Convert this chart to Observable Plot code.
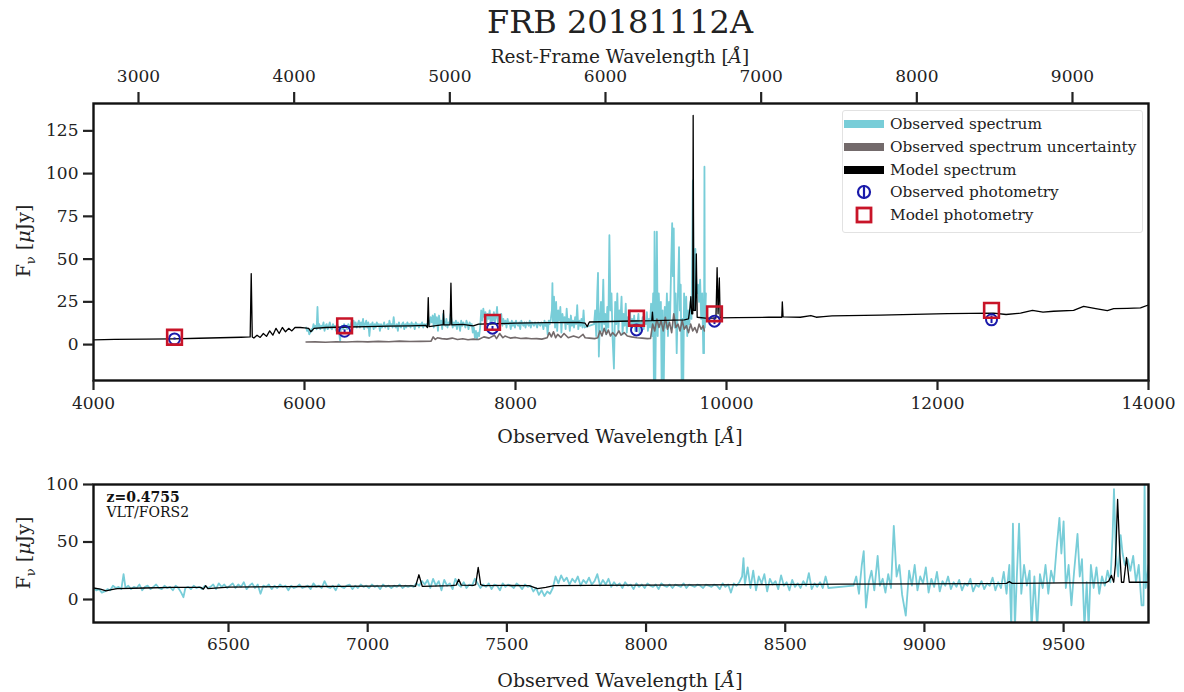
<!DOCTYPE html>
<html>
<head>
<meta charset="utf-8">
<script src="https://cdn.jsdelivr.net/npm/d3@7"></script>
<script src="https://cdn.jsdelivr.net/npm/@observablehq/plot@0.6"></script>
<style>
  body { margin: 0; background: #fff; }
  #wrap { position: relative; width: 1184px; height: 692px; background: #fff; font-family: "DejaVu Serif", serif; color: #222; overflow: hidden; }
  .abs { position: absolute; }
  .lbl { position: absolute; white-space: nowrap; font-size: 19px; transform: translate(-50%, -50%); }
  .ylbl { position: absolute; white-space: nowrap; font-size: 19px; transform: translate(-50%, -50%) rotate(-90deg); }
  #legend { position: absolute; left: 842px; top: 110px; width: 299px; height: 121px; border: 1px solid #e2e2e2; border-radius: 3px; background: rgba(255,255,255,0.85); font-size: 15.3px; }
  .li { position: absolute; left: 0; height: 20px; display: flex; align-items: center; }
  .li span { position: absolute; left: 47px; white-space: nowrap; }
</style>
</head>
<body>
<div id="wrap">
  <div id="top" class="abs" style="left:0;top:60px;"></div>
  <div id="bot" class="abs" style="left:0;top:470px;"></div>
  <div class="lbl" style="left:620px;top:22px;font-size:32px;">FRB 20181112A</div>
  <div class="lbl" style="left:620px;top:56px;font-size:18.5px;">Rest-Frame Wavelength [<i>Å</i>]</div>
  <div class="lbl" style="left:620px;top:436px;">Observed Wavelength [<i>Å</i>]</div>
  <div class="lbl" style="left:620px;top:680px;">Observed Wavelength [<i>Å</i>]</div>
  <div class="ylbl" style="left:25px;top:241px;">F<sub style="font-size:13px">ν</sub> [<i>μ</i>Jy]</div>
  <div class="ylbl" style="left:25px;top:553px;">F<sub style="font-size:13px">ν</sub> [<i>μ</i>Jy]</div>
  <div id="legend"></div>
</div>
<script>
const z = 0.4755;

// tick labels
const obsTicksTop = [4000, 6000, 8000, 10000, 12000, 14000];
const restTicks = [3000, 4000, 5000, 6000, 7000, 8000, 9000];
const yTicksTop = [0, 25, 50, 75, 100, 125];
const obsTicksBot = [6500, 7000, 7500, 8000, 8500, 9000, 9500];
const yTicksBot = [0, 50, 100];

// observed spectrum (VLT/FORS2): [wavelength Å, flux μJy]
const observedSpectrum = [
[6015,10],[6025,8],[6035,9],[6045,6],[6055,7],[6065,9],[6075,8],[6085,12],[6095,10],[6105,11],[6115,9],[6123,22],[6130,10],[6140,12],[6150,9],[6160,11],[6170,10],[6180,13],[6190,8],[6200,11],
[6210,12],[6220,9],[6230,11],[6240,13],[6250,10],[6260,9],[6270,12],[6280,10],[6290,11],[6300,8],[6310,12],[6320,10],[6330,6],[6338,2],[6345,10],[6355,11],[6365,9],[6375,12],[6385,10],[6395,11],
[6405,9],[6415,12],[6425,10],[6435,11],[6445,13],[6455,9],[6465,14],[6475,11],[6485,13],[6495,10],[6505,12],[6515,14],[6525,10],[6535,13],[6545,11],[6555,15],[6565,9],[6575,12],[6585,14],[6595,10],
[6605,13],[6615,5],[6625,12],[6635,11],[6645,13],[6655,9],[6665,12],[6675,10],[6685,13],[6695,11],[6705,12],[6715,8],[6725,12],[6735,10],[6745,11],[6755,13],[6765,10],[6775,11],[6785,12],[6795,9],
[6805,14],[6815,11],[6825,12],[6835,10],[6845,16],[6855,11],[6865,10],[6875,12],[6885,8],[6895,13],[6905,11],[6915,10],[6925,12],[6935,13],[6945,9],[6955,12],[6965,10],[6975,13],[6985,11],[6995,12],
[7005,10],[7015,13],[7025,11],[7035,12],[7045,9],[7055,13],[7065,11],[7075,12],[7085,10],[7095,12],[7105,11],[7115,13],[7125,10],[7135,12],[7145,11],[7155,12],[7165,11],[7175,14],[7185,12],[7195,16],
[7205,13],[7215,17],[7225,10],[7235,18],[7245,12],[7255,16],[7265,8],[7275,17],[7285,12],[7295,14],[7305,9],[7315,18],[7325,13],[7335,11],[7345,15],[7355,10],[7365,13],[7375,12],[7385,18],[7395,14],
[7405,10],[7415,13],[7425,11],[7435,14],[7445,9],[7455,13],[7465,12],[7475,8],[7485,14],[7495,11],[7505,13],[7515,12],[7525,10],[7535,14],[7545,12],[7555,9],[7565,13],[7575,11],[7585,12],[7595,7],
[7605,10],[7615,4],[7625,8],[7635,3],[7645,7],[7655,5],[7665,10],[7675,20],[7685,14],[7695,21],[7705,16],[7715,19],[7725,13],[7735,18],[7745,15],[7755,20],[7765,12],[7775,17],[7785,14],[7795,19],
[7805,13],[7815,16],[7825,22],[7835,12],[7845,17],[7855,13],[7865,18],[7875,11],[7885,15],[7895,12],[7905,14],[7915,10],[7925,15],[7935,12],[7945,13],[7955,9],[7965,14],[7975,11],[7985,13],[7995,10],
[8005,14],[8015,12],[8025,11],[8035,13],[8045,9],[8055,14],[8065,12],[8075,11],[8085,13],[8095,10],[8105,13],[8115,12],[8125,11],[8135,14],[8145,10],[8155,13],[8165,12],[8175,11],[8185,13],[8195,12],
[8205,10],[8215,13],[8225,12],[8235,11],[8245,13],[8255,12],[8265,9],[8275,14],[8285,11],[8295,13],[8305,6],[8315,14],[8325,12],[8335,15],[8345,20],[8350,36],[8355,13],[8365,28],[8375,10],[8385,25],
[8395,8],[8405,20],[8415,14],[8425,22],[8435,7],[8445,18],[8455,13],[8465,16],[8475,9],[8485,21],[8495,12],[8505,15],[8515,8],[8525,17],[8535,11],[8545,14],[8555,10],[8565,16],[8575,12],[8585,23],
[8595,9],[8605,14],[8615,11],[8625,15],[8635,10],[8645,20],[8655,10],[8745,12],[8755,20],[8765,5],[8775,30],[8782,42],[8790,-7],[8800,15],[8810,25],[8820,8],[8832,38],[8840,12],[8850,18],[8860,6],
[8870,22],[8880,10],[8890,64],[8900,20],[8910,30],[8920,4],[8933,-14],[8945,25],[8955,12],[8965,30],[8975,8],[8985,20],[8995,14],[9005,28],[9015,6],[9025,18],[9035,11],[9045,24],[9055,7],[9065,16],
[9075,12],[9085,20],[9095,9],[9105,15],[9115,11],[9125,17],[9135,8],[9145,14],[9155,12],[9165,18],[9175,7],[9185,13],[9195,11],[9205,16],[9215,9],[9225,14],[9235,12],[9245,19],[9255,8],[9265,15],
[9275,10],[9285,24],[9295,5],[9305,30],[9312,-25],[9318,66],[9325,-25],[9332,20],[9340,66],[9348,5],[9358,30],[9368,12],[9378,25],[9385,-25],[9395,20],[9405,-25],[9415,22],[9425,10],[9435,30],[9445,5],
[9455,25],[9465,15],[9475,45],[9485,71],[9492,40],[9500,68],[9508,10],[9518,30],[9528,-5],[9538,25],[9550,57],[9558,20],[9566,35],[9575,-25],[9583,15],[9590,-25],[9598,30],[9608,10],[9618,28],[9628,5],
[9638,20],[9648,12],[9658,25],[9668,15],[9676,55],[9681,96],[9688,40],[9696,20],[9705,56],[9712,40],[9720,30],[9730,35],[9740,25],[9750,38],[9760,15],[9770,30],[9780,-5],[9787,-5],[9791,104],[9795,10],[9805,30]
];

// observed spectrum uncertainty: [wavelength Å, flux μJy]
const spectrumUncertainty = [
[6015,1.5],[6100,1.6],[6200,1.4],[6300,1.7],[6400,1.5],[6500,1.8],[6600,1.6],[6700,1.9],[6800,1.7],[6900,2.0],[7000,1.8],[7100,1.9],[7200,2.0],[7220,4.5],[7240,3.0],[7260,4.0],[7300,3.5],[7350,3.2],[7400,3.8],[7450,3.0],
[7500,3.4],[7550,2.8],[7600,3.2],[7650,3.0],[7700,4.5],[7750,3.8],[7800,5.5],[7820,3.5],[7850,6.5],[7880,4.0],[7900,5.0],[7950,3.8],[8000,4.2],[8050,3.6],[8100,3.8],[8150,3.4],[8200,3.5],[8250,3.2],[8300,4.0],[8320,7.0],
[8340,4.5],[8360,7.5],[8380,4.0],[8400,6.0],[8430,4.2],[8460,6.5],[8500,4.0],[8550,5.0],[8600,4.0],[8640,6.0],[8660,4.0],[8700,3.8],[8750,3.5],[8780,4.0],[8800,8.0],[8820,5.0],[8840,9.5],[8860,6.0],[8880,8.5],[8900,5.0],
[8920,7.0],[8950,5.0],[8980,8.0],[9000,5.5],[9030,7.0],[9060,5.0],[9100,4.5],[9150,4.0],[9200,3.8],[9250,3.5],[9280,3.6],[9300,12.0],[9320,8.0],[9340,15.0],[9360,10.0],[9380,14.0],[9400,8.0],[9420,16.0],[9440,9.0],[9460,13.0],
[9480,7.0],[9500,18.0],[9520,10.0],[9540,12.0],[9560,8.0],[9580,14.0],[9600,9.0],[9620,11.0],[9640,7.0],[9660,12.0],[9680,8.0],[9700,10.0],[9720,7.0],[9740,12.0],[9760,9.0],[9780,11.0],[9790,8.0]
];

// full-resolution model spectrum (top panel): [wavelength Å, flux μJy]
const modelSpectrum = [
[4000,2.8],[4200,3.0],[4500,3.2],[4750,3.4],[5000,3.7],[5200,4.0],[5400,4.3],[5485,4.5],[5495,41.5],[5505,4.5],[5520,3.8],[5550,5.5],[5580,4.2],[5610,6.5],[5640,4.8],[5670,8.0],[5700,5.5],[5730,9.5],[5760,6.5],[5790,10.0],
[5820,7.5],[5850,9.5],[5880,8.0],[5910,10.0],[5960,10.0],[6000,9.8],[6040,9.5],[6060,7.5],[6090,9.5],[6200,10.0],[6400,10.3],[6600,10.5],[6800,10.8],[7000,11.0],[7150,11.2],[7165,10.0],[7173,27.5],[7180,10.5],[7300,11.5],[7314,11.5],
[7318,20],[7322,11.5],[7380,11.5],[7388,36],[7396,11.5],[7500,11.8],[7600,11.0],[7650,12.0],[7800,12.2],[8000,12.5],[8300,12.8],[8600,13.0],[8660,12.5],[8680,10.5],[8700,13.2],[8900,13.5],[9100,13.8],[9292,14],[9298,19],[9304,14],
[9600,14.5],[9640,15],[9655,22],[9662,28],[9670,18],[9680,18],[9684,134],[9690,20],[9705,20],[9714,53],[9722,16],[9800,15.5],[9900,15.5],[9911,45],[9920,18],[9932,39],[9940,15.6],[10100,15.8],[10400,16],[10524,16],
[10529,25],[10536,16.2],[10700,16],[10800,17],[10850,16],[10919,16.4],[11000,16.8],[11460,17.2],[12094,18.1],[12531,18.4],[12650,17.6],[12787,18.4],[12900,20],[13000,19],[13100,19.5],[13290,20],[13385,22.3],[13500,21],[13610,19.9],[13670,21],
[13800,21.2],[13924,21.5],[14000,23.2]
];

// model spectrum convolved to FORS2 resolution (bottom panel): [wavelength Å, flux μJy]
const modelSmoothed = [
[6015,10],[6040,9],[6060,7.5],[6080,8.5],[6100,9.5],[6200,10],[6300,10.5],[6400,10.5],[6410,9],[6418,12],[6426,9.5],[6500,10.8],[6600,11],[6700,11.2],[6800,11.3],[6900,11.5],[7000,11.6],[7100,11.8],[7160,11.8],[7172,11.5],
[7184,21.5],[7196,11.5],[7300,12],[7318,12.5],[7327,17.5],[7336,12.5],[7380,12.2],[7388,13],[7397,28],[7406,13],[7415,12],[7500,12.2],[7580,12],[7610,9.5],[7640,10.5],[7670,12],[7800,12.3],[8000,12.5],[8200,12.8],[8400,13],
[8600,13.2],[8700,13.3],[9000,13.6],[9200,13.8],[9295,14],[9305,15.5],[9315,14],[9500,14.5],[9650,14.5],[9662,16],[9672,21],[9680,15],[9686,30],[9694,87],[9702,40],[9708,15],[9716,15],[9726,36.5],[9736,15],[9805,15]
];

// photometry: observed wavelength Å, observed flux, error, model flux
const photWave = [4768, 6380, 7782, 9147, 9886, 12512];
const photObsFlux = [3.3, 7.8, 9.6, 8.6, 13.7, 14.5];
const photObsErr = [0.6, 0.8, 1.0, 1.5, 2.0, 2.2];
const photModelFlux = [4.3, 11.0, 13.0, 15.4, 18.0, 20.0];

const cyan = "#78cdd8", grey = "#736a6b", blue = "#1a1aaa", red = "#c81428";
const toObj = arr => arr.map(([w, f]) => ({w, f}));
const obsData = toObj(observedSpectrum);
const uncData = toObj(spectrumUncertainty);
const modData = toObj(modelSpectrum);
const modSm = toObj(modelSmoothed);
const phot = photWave.map((w, i) => ({w, o: photObsFlux[i], e: photObsErr[i], m: photModelFlux[i]}));

const fmt = d => String(d);
const font = {fontFamily: "'DejaVu Serif', serif", fontSize: "17px", color: "#222", background: "none", overflow: "visible"};

const topChart = Plot.plot({
  width: 1184, height: 390,
  marginLeft: 93, marginRight: 36, marginTop: 43, marginBottom: 70,
  style: font,
  x: {domain: [4000, 14000]},
  y: {domain: [-21, 141]},
  marks: [
    Plot.line(obsData, {x: "w", y: "f", stroke: cyan, strokeWidth: 1.8, clip: true}),
    Plot.line(uncData, {x: "w", y: "f", stroke: grey, strokeWidth: 1.6, clip: true}),
    Plot.line(modData, {x: "w", y: "f", stroke: "#000", strokeWidth: 1.3, clip: true}),
    Plot.ruleX(phot, {x: "w", y1: d => d.o - d.e, y2: d => d.o + d.e, stroke: blue, strokeWidth: 2}),
    Plot.dot(phot, {x: "w", y: "o", r: 5.5, stroke: blue, strokeWidth: 2, fill: "none"}),
    Plot.dot(phot, {x: "w", y: "m", r: 8.3, symbol: "square", stroke: red, strokeWidth: 2.6, fill: "none"}),
    Plot.frame({stroke: "#111", strokeWidth: 2.4}),
    Plot.axisX({anchor: "bottom", ticks: obsTicksTop, tickFormat: fmt, tickSize: 10, tickPadding: 6, strokeWidth: 2.2, label: null}),
    Plot.axisX(restTicks.map(r => r * (1 + z)), {anchor: "top", tickFormat: d => String(Math.round(d / (1 + z))), tickSize: 12, tickPadding: 10, strokeWidth: 2.2, label: null}),
    Plot.axisY({ticks: yTicksTop, tickFormat: fmt, tickSize: 10, tickPadding: 5, strokeWidth: 2.2, label: null})
  ]
});
document.getElementById("top").appendChild(topChart);

const botChart = Plot.plot({
  width: 1184, height: 222,
  marginLeft: 93, marginRight: 36, marginTop: 14, marginBottom: 70,
  style: font,
  x: {domain: [6015, 9805]},
  y: {domain: [-20, 100]},
  marks: [
    Plot.line(obsData, {x: "w", y: "f", stroke: cyan, strokeWidth: 1.8, clip: true}),
    Plot.line(modSm, {x: "w", y: "f", stroke: "#000", strokeWidth: 1.3, clip: true}),
    Plot.text(["z=0.4755"], {frameAnchor: "top-left", dx: 13, dy: 8, textAnchor: "start", lineAnchor: "top", fontWeight: "bold", fontSize: 14, fill: "#111"}),
    Plot.text(["VLT/FORS2"], {frameAnchor: "top-left", dx: 13, dy: 23, textAnchor: "start", lineAnchor: "top", fontSize: 14, fill: "#111"}),
    Plot.frame({stroke: "#111", strokeWidth: 2.4}),
    Plot.axisX({anchor: "bottom", ticks: obsTicksBot, tickFormat: fmt, tickSize: 10, tickPadding: 5, strokeWidth: 2.2, label: null}),
    Plot.axisY({ticks: yTicksBot, tickFormat: fmt, tickSize: 10, tickPadding: 5, strokeWidth: 2.2, label: null})
  ]
});
document.getElementById("bot").appendChild(botChart);

// legend
const legendItems = [
  {label: "Observed spectrum", kind: "line", color: cyan},
  {label: "Observed spectrum uncertainty", kind: "line", color: grey},
  {label: "Model spectrum", kind: "line", color: "#000"},
  {label: "Observed photometry", kind: "circle", color: blue},
  {label: "Model photometry", kind: "square", color: red}
];
const legend = document.getElementById("legend");
legendItems.forEach((it, i) => {
  const row = document.createElement("div");
  row.className = "li";
  row.style.top = (3 + i * 22.8) + "px";
  let sw = "";
  if (it.kind === "line") sw = `<svg width="42" height="20"><rect x="1" y="6" width="40" height="8" fill="${it.color}"/></svg>`;
  else if (it.kind === "circle") sw = `<svg width="42" height="20"><circle cx="21" cy="10" r="6" fill="none" stroke="${it.color}" stroke-width="2.2"/><line x1="21" y1="3" x2="21" y2="17" stroke="${it.color}" stroke-width="2.2"/></svg>`;
  else sw = `<svg width="42" height="20"><rect x="14" y="3" width="14" height="14" fill="none" stroke="${it.color}" stroke-width="2.8"/></svg>`;
  row.innerHTML = sw + `<span>${it.label}</span>`;
  legend.appendChild(row);
});
</script>
</body>
</html>
